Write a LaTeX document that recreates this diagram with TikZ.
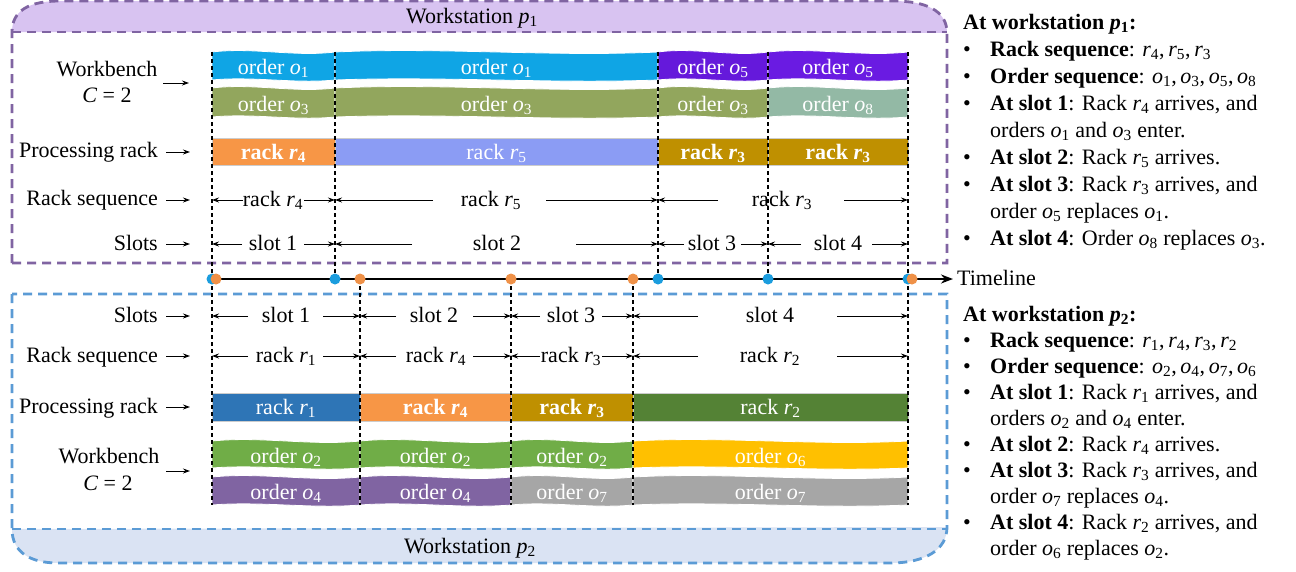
\documentclass[tikz,border=0pt]{standalone}
\usepackage{fontspec}
\setmainfont{Liberation Serif}
\usetikzlibrary{arrows.meta}
\definecolor{cOone}{HTML}{0FA5E5}
\definecolor{cOfive}{HTML}{6519DB}
\definecolor{cOfiveb}{HTML}{6A1BE2}
\definecolor{cOthree}{HTML}{92A65D}
\definecolor{cOeight}{HTML}{93B9A5}
\definecolor{cRfour}{HTML}{F79646}
\definecolor{cRfive}{HTML}{8B9CF4}
\definecolor{cRthree}{HTML}{BF9000}
\definecolor{cRone}{HTML}{2E75B6}
\definecolor{cRtwo}{HTML}{548235}
\definecolor{cOtwo}{HTML}{70AD47}
\definecolor{cOfour}{HTML}{8064A2}
\definecolor{cOseven}{HTML}{A6A6A6}
\definecolor{cOsix}{HTML}{FFC000}
\definecolor{dotblue}{HTML}{1B9DDE}
\definecolor{dotorange}{HTML}{EF9148}
\definecolor{boxpurple}{HTML}{8064A2}
\definecolor{bandpurple}{HTML}{D8C3F1}
\definecolor{boxblue}{HTML}{5B9BD5}
\definecolor{bandblue}{HTML}{DAE3F3}
\newcommand{\bsub}[2]{\textit{#1}\textsubscript{#2}}
\newcommand{\wavebar}[7]{%
  \pgfmathsetmacro{\wvA}{#2+(#3-#2)/3}%
  \pgfmathsetmacro{\wvB}{#2+2*(#3-#2)/3}%
  \fill[#6, draw=white, line width=0.8pt] (#2,#4) .. controls (\wvA,#4-5) and (\wvB,#4+5) .. (#3,#4) -- (#3,#5) .. controls (\wvB,#5+4) and (\wvA,#5-4) .. (#2,#5) -- cycle;
  \node[bartext] (#1) at ({(#2+#3)/2},{(#4+#5)/2+8.5}) {#7};
}
\newcommand{\rackbar}[7]{%
  \fill[#6, draw=black!20, line width=0.8pt] (#2,#4) rectangle (#3,#5);
  \node[bartext] (#1) at ({(#2+#3)/2},{(#4+#5)/2+7.5}) {#7};
}
\newcommand{\dimspan}[8]{%
  \coordinate (#1L) at (#3,#2);
  \coordinate (#1l) at (#4,#2);
  \coordinate (#1r) at (#6,#2);
  \coordinate (#1R) at (#7,#2);
  \node[dimtext] (#1) at (#5,#2+6.5) {#8};
  \draw[dimarrow] (#1l) -- (#1L);
  \draw[dimarrow] (#1r) -- (#1R);
}
\newcommand{\rline}[4]{%
  \node[rtext] (#1) at (#3,#2) {#4};
}
\begin{document}
\begin{tikzpicture}[x=1pt,y=-1pt,
  font=\fontsize{22}{26}\selectfont,
  bartext/.style={text=white, anchor=base, inner sep=0pt},
  dimtext/.style={anchor=base, inner sep=0pt},
  dimarrow/.style={line width=0.9pt, -{Stealth[length=7pt,width=5pt]}},
  lblarrow/.style={line width=1pt, -{Stealth[length=7pt,width=5pt]}},
  lbl/.style={inner sep=0pt},
  rtext/.style={anchor=base west, inner sep=0pt},
  vdash/.style={black, line width=1.1pt, dash pattern=on 4pt off 3pt},
  boxdash/.style={line width=2.8pt, dash pattern=on 9pt off 6pt},
  timeline/.style={line width=2.2pt, -{Stealth[length=12pt,width=9pt]}}]
\useasboundingbox (0,0) rectangle (1296,571);
\fill[white] (0,0) rectangle (1296,571);

% ---------- top workstation box ----------
\fill[bandpurple] (12,32) .. controls (12,10) and (30,1) .. (60,1) -- (893,1) .. controls (925,1) and (947,10) .. (947,33) -- cycle;
\draw[boxdash, boxpurple] (12,263) -- (12,32) .. controls (12,10) and (30,1) .. (60,1) -- (893,1) .. controls (925,1) and (947,10) .. (947,33) -- (947,263) -- cycle;
\draw[boxdash, boxpurple] (12,32) -- (947,32);
\node[anchor=base, inner sep=0pt] (wsp1) at (472,23) {Workstation \bsub{p}{1}};

% ---------- bottom workstation box ----------
\fill[bandblue] (12,529) .. controls (12,552) and (30,563) .. (58,563) -- (890,563) .. controls (925,563) and (947,550) .. (947,527) -- cycle;
\draw[boxdash, boxblue] (12,294) -- (12,529) .. controls (12,552) and (30,563) .. (58,563) -- (890,563) .. controls (925,563) and (947,550) .. (947,527) -- (947,294) -- cycle;
\draw[boxdash, boxblue] (12,529) -- (947,529);
\node[anchor=base, inner sep=0pt] (wsp2) at (470,553) {Workstation \bsub{p}{2}};

% ---------- top bars ----------
\wavebar{to1a}{212}{335}{52}{80}{cOone}{order \bsub{o}{1}}
\wavebar{to1b}{335}{658}{52}{80}{cOone}{order \bsub{o}{1}}
\wavebar{to5a}{658}{768}{52}{80}{cOfive}{order \bsub{o}{5}}
\wavebar{to5b}{768}{908}{52}{80}{cOfiveb}{order \bsub{o}{5}}
\wavebar{to3a}{212}{335}{88}{117}{cOthree}{order \bsub{o}{3}}
\wavebar{to3b}{335}{658}{88}{117}{cOthree}{order \bsub{o}{3}}
\wavebar{to3c}{658}{768}{88}{117}{cOthree}{order \bsub{o}{3}}
\wavebar{to8}{768}{908}{88}{117}{cOeight}{order \bsub{o}{8}}
\rackbar{tr4}{212}{335}{138}{165}{cRfour}{\textbf{rack \bsub{r}{4}}}
\rackbar{tr5}{335}{658}{138}{165}{cRfive}{rack \bsub{r}{5}}
\rackbar{tr3a}{658}{768}{138}{165}{cRthree}{\textbf{rack \bsub{r}{3}}}
\rackbar{tr3b}{768}{908}{138}{165}{cRthree}{\textbf{rack \bsub{r}{3}}}

% ---------- bottom bars ----------
\rackbar{br1}{212}{360}{393}{421}{cRone}{rack \bsub{r}{1}}
\rackbar{br4}{360}{511}{393}{421}{cRfour}{\textbf{rack \bsub{r}{4}}}
\rackbar{br3}{511}{633}{393}{421}{cRthree}{\textbf{rack \bsub{r}{3}}}
\rackbar{br2}{633}{908}{393}{421}{cRtwo}{rack \bsub{r}{2}}
\wavebar{bo2a}{212}{360}{441}{468}{cOtwo}{order \bsub{o}{2}}
\wavebar{bo2b}{360}{511}{441}{468}{cOtwo}{order \bsub{o}{2}}
\wavebar{bo2c}{511}{633}{441}{468}{cOtwo}{order \bsub{o}{2}}
\wavebar{bo6}{633}{908}{441}{468}{cOsix}{order \bsub{o}{6}}
\wavebar{bo4a}{212}{360}{477}{505}{cOfour}{order \bsub{o}{4}}
\wavebar{bo4b}{360}{511}{477}{505}{cOfour}{order \bsub{o}{4}}
\wavebar{bo7a}{511}{633}{477}{505}{cOseven}{order \bsub{o}{7}}
\wavebar{bo7b}{633}{908}{477}{505}{cOseven}{order \bsub{o}{7}}

% ---------- dimension rows ----------
\dimspan{tqa}{200}{212}{243}{273}{304}{335}{rack \bsub{r}{4}}
\dimspan{tqb}{200}{335}{433}{491}{546}{658}{rack \bsub{r}{5}}
\dimspan{tqc}{200}{658}{718}{782}{844}{908}{rack \bsub{r}{3}}
\dimspan{tsa}{244}{212}{242}{273}{304}{335}{slot 1}
\dimspan{tsb}{244}{335}{412}{497}{576}{658}{slot 2}
\dimspan{tsc}{244}{658}{684}{712}{741}{768}{slot 3}
\dimspan{tsd}{244}{768}{801}{838}{872}{908}{slot 4}
\dimspan{bsa}{316}{212}{248}{286}{323}{360}{slot 1}
\dimspan{bsb}{316}{360}{396}{434}{473}{511}{slot 2}
\dimspan{bsc}{316}{511}{540}{571}{602}{633}{slot 3}
\dimspan{bsd}{316}{633}{698}{770}{837}{908}{slot 4}
\dimspan{bqa}{356}{212}{248}{286}{323}{360}{rack \bsub{r}{1}}
\dimspan{bqb}{356}{360}{396}{436}{473}{511}{rack \bsub{r}{4}}
\dimspan{bqc}{356}{511}{540}{571}{602}{633}{rack \bsub{r}{3}}
\dimspan{bqd}{356}{633}{698}{770}{837}{908}{rack \bsub{r}{2}}

% ---------- vertical dashed lines ----------
\foreach \xx in {212,335,658,768,908} \draw[vdash] (\xx,52) -- (\xx,281);
\foreach \xx in {212,360,511,633,908} \draw[vdash] (\xx,279) -- (\xx,505);

% ---------- timeline ----------
\coordinate (tlA) at (212,279);
\coordinate (tlB) at (953,279);
\draw[timeline] (tlA) -- (tlB);
\node[rtext] (tltext) at (957,285) {Timeline};
\foreach \xx in {212,335,658,768,908} \fill[dotblue] (\xx,279) circle (5.5);
\foreach \xx in {216,360,511,633,912} \fill[dotorange] (\xx,279) circle (5.5);

% ---------- left labels ----------
\node[lbl, anchor=base] (twb1) at (107,76) {Workbench};
\node[lbl, anchor=base] (twb2) at (107,102) {\textit{C} = 2};
\coordinate (twbA) at (163,83); \coordinate (twbB) at (189,83);
\draw[lblarrow] (twbA) -- (twbB);
\node[lbl, anchor=base east] (tpr) at (158,157) {Processing rack};
\coordinate (tprA) at (166,152); \coordinate (tprB) at (190,152);
\draw[lblarrow] (tprA) -- (tprB);
\node[lbl, anchor=base east] (trs) at (158,205) {Rack sequence};
\coordinate (trsA) at (166,200); \coordinate (trsB) at (190,200);
\draw[lblarrow] (trsA) -- (trsB);
\node[lbl, anchor=base east] (tsl) at (158,250) {Slots};
\coordinate (tslA) at (166,244); \coordinate (tslB) at (190,244);
\draw[lblarrow] (tslA) -- (tslB);

\node[lbl, anchor=base east] (bsl) at (158,322) {Slots};
\coordinate (bslA) at (166,316); \coordinate (bslB) at (190,316);
\draw[lblarrow] (bslA) -- (bslB);
\node[lbl, anchor=base east] (brs) at (158,362) {Rack sequence};
\coordinate (brsA) at (166,356); \coordinate (brsB) at (190,356);
\draw[lblarrow] (brsA) -- (brsB);
\node[lbl, anchor=base east] (bpr) at (158,413) {Processing rack};
\coordinate (bprA) at (166,407); \coordinate (bprB) at (190,407);
\draw[lblarrow] (bprA) -- (bprB);
\node[lbl, anchor=base] (bwb1) at (109,463) {Workbench};
\node[lbl, anchor=base] (bwb2) at (108,490) {\textit{C} = 2};
\coordinate (bwbA) at (166,471); \coordinate (bwbB) at (190,471);
\draw[lblarrow] (bwbA) -- (bwbB);

% ---------- right text, p1 ----------
\rline{ha}{29}{963}{\textbf{At workstation \bsub{p}{1}:}}
\rline{ba1}{56}{963}{•}
\rline{ta1}{56}{990}{\textbf{Rack sequence}: \bsub{r}{4},\,\bsub{r}{5},\,\bsub{r}{3}}
\rline{ba2}{83}{963}{•}
\rline{ta2}{83}{990}{\textbf{Order sequence}: \bsub{o}{1},\,\bsub{o}{3},\,\bsub{o}{5},\,\bsub{o}{8}}
\rline{ba3}{110}{963}{•}
\rline{ta3}{110}{990}{\textbf{At slot 1}: Rack \bsub{r}{4} arrives, and}
\rline{ta3b}{137}{990}{orders \bsub{o}{1} and \bsub{o}{3} enter.}
\rline{ba4}{164}{963}{•}
\rline{ta4}{164}{990}{\textbf{At slot 2}: Rack \bsub{r}{5} arrives.}
\rline{ba5}{191}{963}{•}
\rline{ta5}{191}{990}{\textbf{At slot 3}: Rack \bsub{r}{3} arrives, and}
\rline{ta5b}{218}{990}{order \bsub{o}{5} replaces \bsub{o}{1}.}
\rline{ba6}{245}{963}{•}
\rline{ta6}{245}{990}{\textbf{At slot 4}: Order \bsub{o}{8} replaces \bsub{o}{3}.}

% ---------- right text, p2 ----------
\rline{hb}{321}{963}{\textbf{At workstation \bsub{p}{2}:}}
\rline{bb1}{347}{963}{•}
\rline{tb1}{347}{990}{\textbf{Rack sequence}: \bsub{r}{1},\,\bsub{r}{4},\,\bsub{r}{3},\,\bsub{r}{2}}
\rline{bb2}{373}{963}{•}
\rline{tb2}{373}{990}{\textbf{Order sequence}: \bsub{o}{2},\,\bsub{o}{4},\,\bsub{o}{7},\,\bsub{o}{6}}
\rline{bb3}{399}{963}{•}
\rline{tb3}{399}{990}{\textbf{At slot 1}: Rack \bsub{r}{1} arrives, and}
\rline{tb3b}{425}{990}{orders \bsub{o}{2} and \bsub{o}{4} enter.}
\rline{bb4}{451}{963}{•}
\rline{tb4}{451}{990}{\textbf{At slot 2}: Rack \bsub{r}{4} arrives.}
\rline{bb5}{477}{963}{•}
\rline{tb5}{477}{990}{\textbf{At slot 3}: Rack \bsub{r}{3} arrives, and}
\rline{tb5b}{503}{990}{order \bsub{o}{7} replaces \bsub{o}{4}.}
\rline{bb6}{529}{963}{•}
\rline{tb6}{529}{990}{\textbf{At slot 4}: Rack \bsub{r}{2} arrives, and}
\rline{tb6b}{555}{990}{order \bsub{o}{6} replaces \bsub{o}{2}.}
\end{tikzpicture}
\end{document}
